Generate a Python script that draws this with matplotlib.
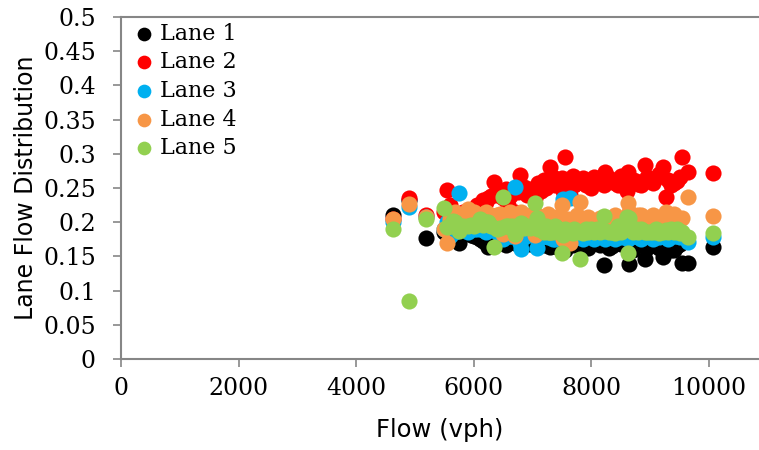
import matplotlib
matplotlib.use('Agg')
import matplotlib.pyplot as plt

# flow (vph) and the share of each lane at that flow
flow = [4620, 4900, 5190, 5490, 5540, 5600, 5680, 5750, 5820, 5900,
        6000, 6100, 6200, 6240, 6340, 6400, 6500, 6580, 6650, 6700,
        6790, 6800, 6900, 7000, 7040, 7070, 7150, 7230, 7300, 7380,
        7450, 7500, 7520, 7550, 7640, 7700, 7800, 7900, 8000, 8100,
        8210, 8230, 8350, 8450, 8550, 8600, 8620, 8640, 8750, 8850,
        8910, 9000, 9100, 9220, 9270, 9350, 9450, 9540, 9640, 10070,
        # denser middle part
        6050, 6150, 6300, 6450, 6550, 6620, 6850, 6950, 7100, 7200,
        7270, 7350, 7420, 7600, 7680, 7750, 7850, 7950, 8050, 8150,
        8300, 8400, 8500, 8700, 8800, 8950, 9050, 9150, 9300, 9400,
        9500, 5950, 5650, 6750, 7480]

lane1 = [.210, .233, .177, .185, .190, .195, .180, .170, .185, .190,
         .180, .175, .170, .164, .170, .175, .170, .180, .175, .170,
         .175, .180, .175, .170, .175, .172, .170, .175, .164, .170,
         .175, .170, .165, .160, .170, .175, .180, .170, .175, .170,
         .137, .170, .165, .170, .175, .165, .170, .139, .165, .170,
         .146, .170, .165, .149, .175, .160, .165, .140, .140, .164,
         .178, .172, .168, .172, .166, .174, .170, .168, .172, .166,
         .170, .168, .164, .170, .166, .168, .172, .162, .170, .166,
         .162, .172, .168, .160, .170, .162, .170, .162, .168, .160,
         .168, .182, .186, .170, .168]

lane2 = [.205, .235, .210, .215, .247, .225, .205, .200, .215, .210,
         .220, .215, .230, .235, .259, .240, .235, .225, .245, .215,
         .269, .245, .240, .245, .235, .250, .245, .250, .281, .255,
         .260, .265, .245, .295, .240, .255, .260, .255, .250, .260,
         .255, .273, .260, .255, .260, .245, .273, .255, .260, .255,
         .284, .260, .265, .281, .237, .255, .260, .295, .273, .272,
         .225, .232, .238, .242, .248, .238, .252, .248, .258, .262,
         .255, .266, .258, .262, .268, .258, .264, .258, .266, .260,
         .265, .258, .268, .262, .256, .266, .258, .270, .262, .258,
         .266, .218, .212, .244, .255]

lane3 = [.200, .222, .207, .190, .200, .180, .185, .243, .195, .185,
         .190, .200, .185, .195, .200, .185, .175, .190, .180, .252,
         .170, .161, .185, .190, .180, .162, .185, .180, .185, .175,
         .180, .185, .234, .175, .235, .180, .185, .180, .185, .180,
         .200, .175, .185, .180, .180, .178, .175, .185, .180, .175,
         .185, .180, .180, .180, .185, .185, .180, .180, .171, .178,
         .190, .188, .190, .182, .186, .180, .178, .182, .176, .180,
         .178, .176, .182, .178, .180, .178, .176, .182, .176, .180,
         .178, .176, .178, .180, .178, .180, .176, .178, .176, .180,
         .178, .192, .190, .186, .182]

lane4 = [.205, .226, .207, .190, .170, .205, .215, .200, .210, .220,
         .215, .205, .215, .205, .207, .210, .183, .210, .205, .180,
         .195, .215, .205, .200, .182, .210, .205, .200, .185, .205,
         .195, .225, .175, .180, .170, .200, .229, .205, .200, .200,
         .200, .195, .205, .200, .195, .205, .228, .215, .205, .210,
         .200, .205, .200, .205, .215, .210, .205, .206, .237, .209,
         .210, .212, .210, .212, .206, .215, .208, .210, .204, .206,
         .212, .204, .208, .205, .202, .210, .204, .208, .202, .206,
         .205, .210, .200, .206, .210, .204, .210, .202, .208, .212,
         .204, .212, .210, .210, .206]

lane5 = [.190, .085, .205, .221, .193, .195, .200, .187, .195, .195,
         .195, .205, .200, .200, .164, .190, .237, .195, .195, .183,
         .191, .199, .195, .195, .228, .206, .195, .195, .185, .195,
         .190, .155, .181, .190, .185, .190, .146, .190, .190, .190,
         .209, .187, .185, .195, .190, .207, .155, .206, .190, .190,
         .185, .185, .190, .185, .188, .190, .190, .185, .179, .184,
         .197, .196, .194, .192, .194, .193, .192, .192, .190, .186,
         .185, .186, .188, .185, .184, .186, .184, .186, .186, .186,
         .186, .184, .186, .186, .186, .186, .186, .184, .186, .186,
         .184, .196, .202, .190, .189]

lanes = [lane1, lane2, lane3, lane4, lane5]
names = ['Lane 1', 'Lane 2', 'Lane 3', 'Lane 4', 'Lane 5']
colors = ['#000000', '#ff0000', '#00b0f0', '#f79646', '#92d050']

gray = '#868686'
serif = 'DejaVu Serif'
sans = 'DejaVu Sans'

fig = plt.figure(figsize=(7.59, 4.5), dpi=100)
ax = fig.add_axes([0.1594, 0.2022, 0.8406, 0.76])

for vals, name, col in zip(lanes, names, colors):
    ax.scatter(flow, vals, s=135, c=col, linewidths=0, label=name, zorder=3)

ax.set_xlim(0, 10850)
ax.set_ylim(0, 0.5)
ax.set_xticks([0, 2000, 4000, 6000, 8000, 10000])
ax.set_yticks([0, 0.05, 0.1, 0.15, 0.2, 0.25, 0.3, 0.35, 0.4, 0.45, 0.5])
ax.set_yticklabels(['0', '0.05', '0.1', '0.15', '0.2', '0.25', '0.3',
                    '0.35', '0.4', '0.45', '0.5'])

for lab in ax.get_xticklabels() + ax.get_yticklabels():
    lab.set_fontfamily(serif)
    lab.set_fontsize(17)
ax.tick_params(direction='out', length=6, width=1.2, color=gray)
ax.tick_params(axis='y', pad=12)
ax.tick_params(axis='x', pad=7)

for side in ['left', 'bottom', 'top']:
    ax.spines[side].set_color(gray)
    ax.spines[side].set_linewidth(1.5)
ax.spines['right'].set_visible(False)

ax.set_xlabel('Flow (vph)', fontfamily=sans, fontsize=17.5, labelpad=13)
ax.set_ylabel('Lane Flow Distribution', fontfamily=sans, fontsize=17, labelpad=4)

ax.legend(loc='upper left', frameon=False, prop={'family': serif, 'size': 16},
          handletextpad=-0.1, labelspacing=0.3, borderaxespad=0.1,
          handlelength=1.6, markerscale=0.85, scatterpoints=1, borderpad=0.15)

fig.savefig('out.png', dpi=100)
